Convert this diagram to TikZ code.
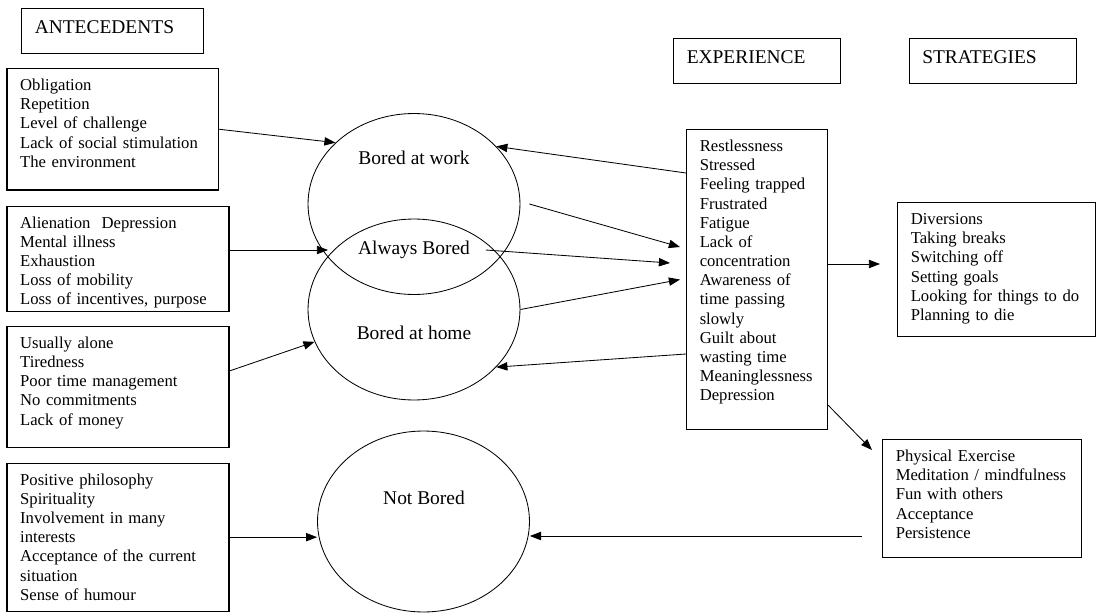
\documentclass[tikz,border=0pt]{standalone}
\usepackage{fontspec}
\setmainfont{Liberation Serif}
\usetikzlibrary{arrows.meta,positioning,calc,shapes.geometric}

\begin{document}
\begin{tikzpicture}[x=0.72pt,y=-0.72pt,>={Triangle[length=8pt,width=6pt]},font=\fontsize{12pt}{13.8pt}\selectfont,
  head/.style={draw,line width=0.8pt,anchor=north west,align=left,inner xsep=9.5pt,inner ysep=4pt,text height=14pt,text depth=10.4pt,font=\fontsize{14pt}{16pt}\selectfont},
  box/.style={draw,line width=0.8pt,anchor=north west,align=left,inner xsep=9.5pt,inner ysep=4pt,text height=11.8pt},
  state/.style={draw,ellipse,line width=0.6pt,minimum width=152.6pt,minimum height=130.3pt,inner sep=0pt},
  lbl/.style={font=\fontsize{14pt}{16pt}\selectfont},
  link/.style={->,line width=0.6pt}]
  \useasboundingbox (0,0) rectangle (1099,614);
  % headings
  \node[head,text width=112pt] (antec) at (21,8) {ANTECEDENTS};
  \node[head,text width=101.2pt] (expr) at (673,38) {EXPERIENCE};
  \node[head,text width=101.6pt] (strat) at (908.5,38) {STRATEGIES};
  % antecedents
  \node[box,text width=133.4pt,text depth=67.6pt] (obl) at (6.4,68) {Obligation\\Repetition\\Level of challenge\\Lack of social stimulation\\The environment};
  \node[box,text width=140.9pt,text depth=56pt,below=10.8pt of obl.south west,anchor=north west] (alien) {Alienation~ Depression\\Mental illness\\Exhaustion\\Loss of mobility\\Loss of incentives, purpose};
  \node[box,text width=140.9pt,text depth=67.5pt,below=10.1pt of alien.south west,anchor=north west] (alone) {Usually alone\\Tiredness\\Poor time management\\No commitments\\Lack of money};
  \node[box,text width=140.9pt,text depth=86.6pt,below=10.4pt of alone.south west,anchor=north west] (posit) {Positive philosophy\\Spirituality\\Involvement in many\\interests\\Acceptance of the current\\situation\\Sense of humour};
  % states
  \node[state] (work) at (414,204) {};
  \node[state] (home) at (414,309.5) {};
  \node[state] (notb) at (423.5,521.5) {};
  \node[lbl] (worklbl) at (414,158) {Bored at work};
  \node[lbl] (alwayslbl) at (414,250) {Always Bored};
  \node[lbl] (homelbl) at (414,333) {Bored at home};
  \node[lbl] (notblbl) at (424,498) {Not Bored};
  % experience and strategies
  \node[box,text width=82.5pt,text depth=196.2pt] (feel) at (686,129) {Restlessness\\Stressed\\Feeling trapped\\Frustrated\\Fatigue\\Lack of\\concentration\\Awareness of\\time passing\\slowly\\Guilt about\\wasting time\\Meaninglessness\\Depression};
  \node[box,text width=123.6pt,text depth=76.6pt] (div) at (897,202) {Diversions\\Taking breaks\\Switching off\\Setting goals\\Looking for things to do\\Planning to die};
  \node[box,text width=124.3pt,text depth=65.3pt] (phys) at (882,439) {Physical Exercise\\Meditation / mindfulness\\Fun with others\\Acceptance\\Persistence};
  \coordinate (meet) at (328,250);
  % links
  \draw[link] (obl.east) -- (work.142);
  \draw[link] (alien.east |- alwayslbl) -- (meet);
  \draw[link] ($(alone.north east)+(0,45)$) -- (home.198);
  \draw[link] (posit.east) -- (posit.east -| notb.west);
  \draw[link] ($(feel.north west)+(0,44)$) -- (work.35);
  \draw[link] ($(work.east)+(9,0)$) -- ($(feel.north west)+(-6,118)$);
  \draw[link] ($(alwayslbl.east)+(11,0)$) -- ($(feel.north west)+(-16,134)$);
  \draw[link] (home.east) -- ($(feel.west)+(-6,0)$);
  \draw[link] ($(feel.north west)+(0,225)$) -- (home.-35);
  \draw[link] ($(feel.north east)+(0,135)$) -- ($(div.west |- feel.north east)+(-17,135)$);
  \draw[link] ($(feel.south east)+(0,-25)$) -- ($(phys.north west)+(-10,11)$);
  \draw[link] ($(phys.north west)+(-20,97)$) -- ($(notb.east |- phys.north west)+(0,97)$);
\end{tikzpicture}
\end{document}
